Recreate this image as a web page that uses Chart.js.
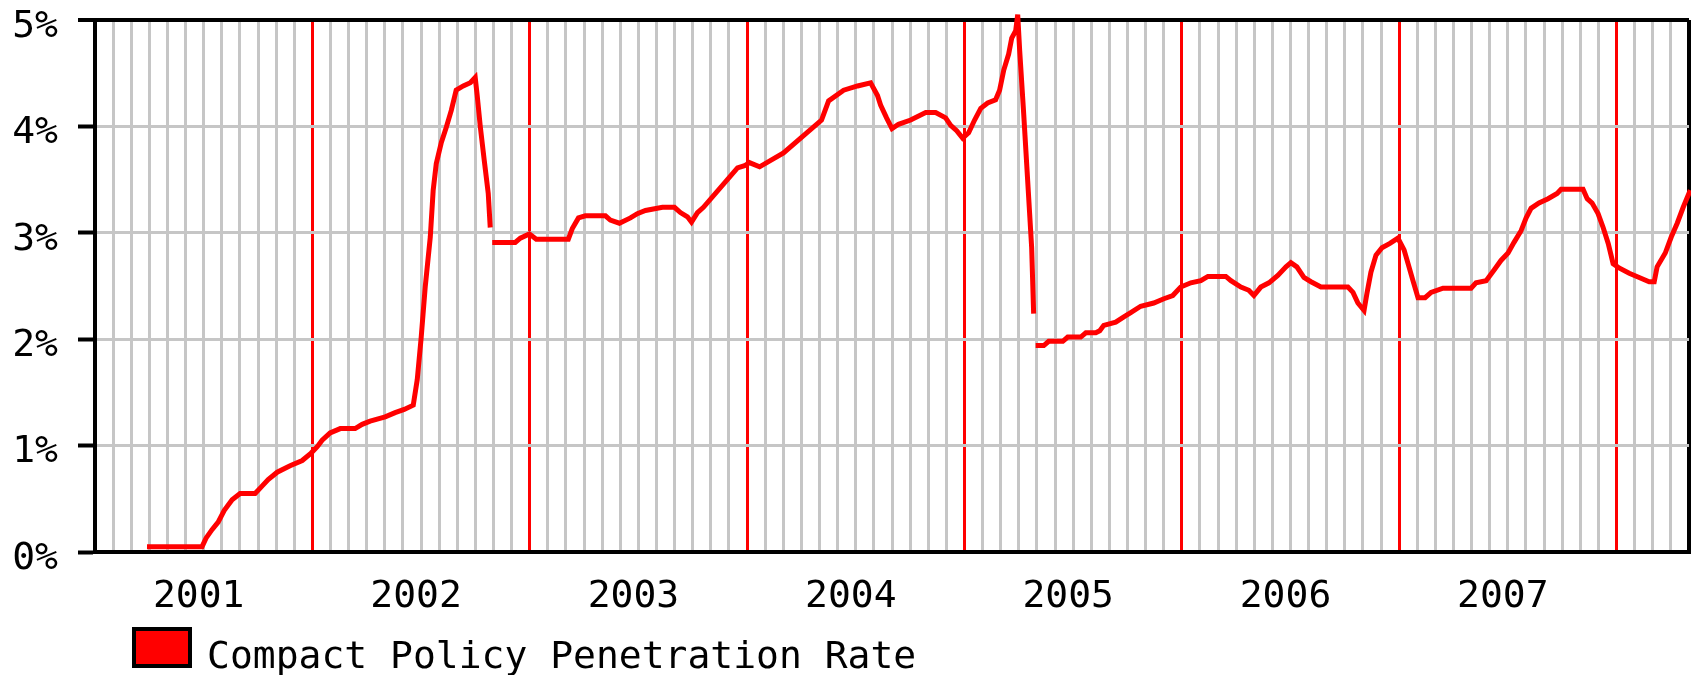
<!DOCTYPE html>
<html>
<head>
<meta charset="utf-8">
<title>Compact Policy Penetration Rate</title>
<script src="https://cdn.jsdelivr.net/npm/chart.js@4.4.1/dist/chart.umd.min.js"></script>
<style>
  html, body { margin: 0; padding: 0; background: #ffffff; }
  #wrap { width: 1691px; height: 675px; }
</style>
</head>
<body>
<div id="wrap"><canvas id="rateChart" width="1691" height="675"></canvas></div>
<script>
// Series: x = months since January 2001, y = percent.
// null marks the two breaks in the line.
const months = [
  2.87, 5.91, 6.13, 6.46, 6.80, 7.13, 7.57, 8.01, 8.84, 9.17,
  9.56, 10.06, 10.77, 11.44, 11.93, 12.27, 12.54, 12.98, 13.54, 14.36,
  14.75, 15.19, 16.02, 16.57, 17.07, 17.57, 17.79, 18.01, 18.23, 18.51,
  18.67, 18.84, 19.12, 19.39, 19.67, 19.94, 20.33, 20.72, 20.99, 21.10,
  21.27, 21.49, 21.71, 21.82,
  21.87,
  21.93, 23.20, 23.48, 23.98, 24.36, 26.13, 26.35, 26.69, 27.07, 28.18,
  28.45, 28.95, 29.56, 29.94, 30.39, 31.33, 31.99, 32.32, 32.71, 32.93,
  33.26, 33.59, 35.47, 35.86, 36.13, 36.69, 38.01, 40.11, 40.50, 41.33,
  42.10, 42.82, 43.20, 43.37, 43.70, 44.00, 44.36, 45.03, 45.86, 46.41,
  46.96, 47.24, 47.57, 47.90, 48.23, 48.56, 48.90, 49.28, 49.72, 49.94,
  50.17, 50.44, 50.61, 50.83, 50.94, 51.05, 51.27, 51.49, 51.71, 51.82,
  51.87,
  51.93, 52.38, 52.65, 53.43, 53.70, 54.42, 54.70, 55.25, 55.47, 55.69,
  56.35, 56.80, 57.18, 57.73, 58.45, 59.01, 59.50, 59.94, 60.50, 61.05,
  61.44, 62.43, 62.71, 63.26, 63.70, 63.98, 64.36, 64.81, 65.30, 65.75,
  66.02, 66.35, 66.74, 67.13, 67.68, 69.17, 69.45, 69.72, 70.06, 70.22,
  70.44, 70.72, 71.05, 71.49, 71.93, 72.27, 72.49, 72.76, 73.04, 73.43,
  73.76, 74.42, 75.97, 76.24, 76.80, 77.24, 77.62, 78.01, 78.34, 78.73,
  79.01, 79.28, 79.72, 80.22, 80.72, 80.94, 82.15, 82.38, 82.65, 82.98,
  83.26, 83.54, 83.81, 84.14, 84.70, 85.25, 85.80, 86.08, 86.24, 86.69,
  87.02, 87.35, 87.68, 88.07
];

const rates = [
  0.05, 0.05, 0.13, 0.21, 0.28, 0.39, 0.49, 0.55, 0.55, 0.61,
  0.68, 0.75, 0.81, 0.86, 0.93, 0.99, 1.05, 1.12, 1.16, 1.16,
  1.20, 1.23, 1.27, 1.31, 1.34, 1.38, 1.62, 2.02, 2.49, 2.96,
  3.40, 3.65, 3.85, 3.99, 4.15, 4.34, 4.38, 4.41, 4.46, 4.29,
  4.00, 3.68, 3.37, 3.05,
  null,
  2.91, 2.91, 2.95, 2.99, 2.94, 2.94, 3.04, 3.14, 3.16, 3.16,
  3.12, 3.09, 3.14, 3.18, 3.21, 3.24, 3.24, 3.19, 3.15, 3.10,
  3.19, 3.24, 3.61, 3.63, 3.66, 3.62, 3.75, 4.06, 4.24, 4.34,
  4.38, 4.41, 4.29, 4.20, 4.08, 3.98, 4.02, 4.06, 4.13, 4.13,
  4.08, 4.01, 3.96, 3.89, 3.94, 4.06, 4.17, 4.22, 4.25, 4.34,
  4.53, 4.68, 4.83, 4.90, 5.05, 4.71, 4.12, 3.49, 2.86, 2.24,
  null,
  1.94, 1.94, 1.98, 1.98, 2.02, 2.02, 2.06, 2.06, 2.08, 2.13,
  2.16, 2.21, 2.25, 2.31, 2.34, 2.38, 2.41, 2.49, 2.53, 2.55,
  2.59, 2.59, 2.55, 2.49, 2.46, 2.41, 2.49, 2.53, 2.60, 2.68,
  2.72, 2.68, 2.58, 2.54, 2.49, 2.49, 2.44, 2.34, 2.27, 2.43,
  2.63, 2.79, 2.86, 2.90, 2.95, 2.84, 2.71, 2.55, 2.39, 2.39,
  2.44, 2.48, 2.48, 2.53, 2.55, 2.65, 2.74, 2.81, 2.91, 3.02,
  3.14, 3.23, 3.28, 3.32, 3.37, 3.41, 3.41, 3.32, 3.28, 3.18,
  3.05, 2.90, 2.71, 2.67, 2.62, 2.58, 2.54, 2.54, 2.68, 2.81,
  2.96, 3.09, 3.24, 3.40
];

const yearLabels = ["2001", "2002", "2003", "2004", "2005", "2006", "2007"];
const percentTicks = ["0%", "1%", "2%", "3%", "4%", "5%"];
const seriesLabel = "Compact Policy Penetration Rate";

const FONT = "'DejaVu Sans Mono', 'Liberation Mono', monospace";
const GRAY = "#c6c6c6";
const RED = "#ff0000";
const LAST_MONTH = 88;

// legend drawn by hand so the box can sit under the plot like the original
const legendBox = {
  id: "legendBox",
  afterDraw(chart) {
    const ctx = chart.ctx;
    ctx.save();
    ctx.fillStyle = RED;
    ctx.fillRect(134, 629, 56, 37);
    ctx.strokeStyle = "#000000";
    ctx.lineWidth = 4;
    ctx.strokeRect(134, 629, 56, 37);
    ctx.fillStyle = "#000000";
    ctx.font = "38px " + FONT;
    ctx.textBaseline = "alphabetic";
    ctx.textAlign = "left";
    ctx.fillText(seriesLabel, 207, 668);
    ctx.restore();
  }
};

const points = months.map((m, i) => ({ x: m, y: rates[i] }));

new Chart(document.getElementById("rateChart"), {
  type: "line",
  data: {
    datasets: [{
      label: seriesLabel,
      data: points,
      borderColor: RED,
      backgroundColor: RED,
      borderWidth: 5,
      pointRadius: 0,
      tension: 0,
      fill: false,
      spanGaps: false,
      clip: false
    }]
  },
  options: {
    responsive: false,
    animation: false,
    devicePixelRatio: 1,
    layout: { padding: { top: 20, right: 2, left: 0, bottom: 0 } },
    plugins: {
      legend: { display: false },
      tooltip: { enabled: false }
    },
    scales: {
      x: {
        type: "linear",
        min: 0,
        max: LAST_MONTH,
        afterFit(scale) {
          scale.height = 123;
          scale.paddingLeft = 0;
          scale.paddingRight = 0;
        },
        border: { color: "#000000", width: 4 },
        grid: {
          drawTicks: false,
          color: (c) => {
            const v = Math.round(c.tick.value);
            if (v === 0) return "rgba(0,0,0,0)";
            if (v === LAST_MONTH) return "#000000";
            return v % 12 === 0 ? RED : GRAY;
          },
          lineWidth: (c) => (Math.round(c.tick.value) === LAST_MONTH ? 4 : 3)
        },
        ticks: {
          stepSize: 1,
          autoSkip: false,
          maxRotation: 0,
          minRotation: 0,
          padding: 22,
          labelOffset: -5,
          color: "#000000",
          font: { family: FONT, size: 38 },
          callback: (value) => {
            const v = Math.round(value);
            return v % 12 === 6 ? yearLabels[(v - 6) / 12] : "";
          }
        }
      },
      y: {
        min: 0,
        max: 5,
        afterFit(scale) {
          scale.width = 95;
          scale.paddingTop = 0;
          scale.paddingBottom = 0;
        },
        border: { color: "#000000", width: 4 },
        grid: {
          color: (c) => (c.tick.value === 5 || c.tick.value === 0 ? "#000000" : GRAY),
          lineWidth: (c) => (c.tick.value === 5 ? 4 : 3),
          tickColor: "#000000",
          tickLength: 17,
          tickWidth: 4
        },
        ticks: {
          stepSize: 1,
          padding: 20,
          labelOffset: 7,
          color: "#000000",
          font: { family: FONT, size: 38 },
          callback: (value) => percentTicks[Math.round(value)]
        }
      }
    }
  },
  plugins: [legendBox]
});
</script>
</body>
</html>
